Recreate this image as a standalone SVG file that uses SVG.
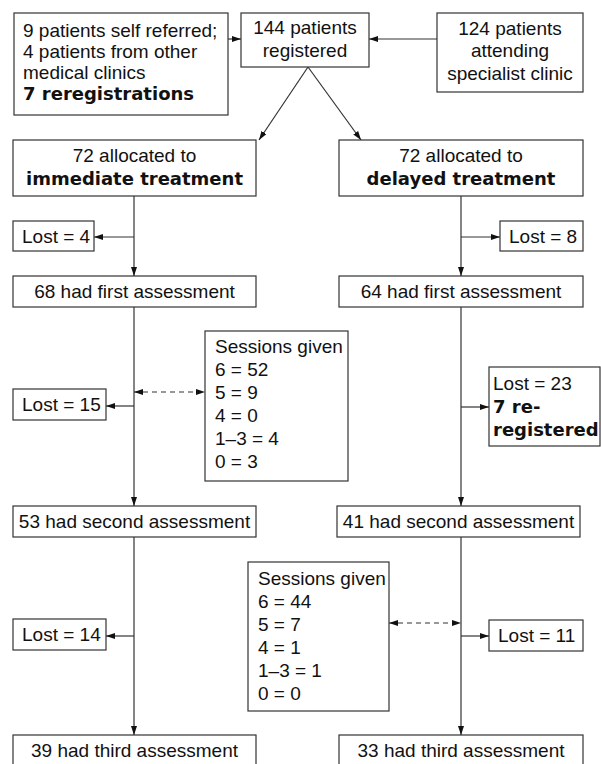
<svg xmlns="http://www.w3.org/2000/svg" width="601" height="764" viewBox="0 0 601 764">
<defs>
<marker id="ah" viewBox="0 0 9 6" refX="9" refY="3" markerWidth="9" markerHeight="6" orient="auto-start-reverse" markerUnits="userSpaceOnUse"><path d="M0,0 L9,3 L0,6 z" fill="#111"/></marker>
<style>
.box{fill:#fff;stroke:#333;stroke-width:1.2}
text{font-family:"Liberation Sans",Arial,sans-serif;font-size:19px;fill:#111}
.b{font-family:"DejaVu Sans","Liberation Sans",sans-serif;font-weight:bold;font-size:18px}
.c{text-anchor:middle}
.ln{stroke:#333;stroke-width:1.2;fill:none}
.arr{marker-end:url(#ah)}
.dash{stroke-dasharray:5,4;marker-start:url(#ah);marker-end:url(#ah)}
</style>
</defs>
<rect width="601" height="764" fill="#fff"/>
<g id="connectors">
<line class="ln arr" x1="228" y1="39" x2="241" y2="39"/>
<line class="ln arr" x1="437" y1="39" x2="369" y2="39"/>
<line class="ln arr" x1="308" y1="67" x2="259" y2="140"/>
<line class="ln arr" x1="308" y1="67" x2="361" y2="140"/>
<line class="ln arr" x1="134" y1="196" x2="134" y2="276"/>
<line class="ln arr" x1="134" y1="237" x2="94" y2="237"/>
<line class="ln arr" x1="461" y1="196" x2="461" y2="276"/>
<line class="ln arr" x1="461" y1="237" x2="500" y2="237"/>
<line class="ln arr" x1="134" y1="307" x2="134" y2="506"/>
<line class="ln arr" x1="134" y1="406" x2="106" y2="406"/>
<line class="ln dash" x1="134" y1="392" x2="205" y2="392"/>
<line class="ln arr" x1="461" y1="307" x2="461" y2="506"/>
<line class="ln arr" x1="461" y1="407" x2="489" y2="407"/>
<line class="ln arr" x1="134" y1="537" x2="134" y2="735"/>
<line class="ln arr" x1="134" y1="636" x2="106" y2="636"/>
<line class="ln arr" x1="461" y1="537" x2="461" y2="735"/>
<line class="ln arr" x1="461" y1="636" x2="489" y2="636"/>
<line class="ln dash" x1="389" y1="623" x2="461" y2="623"/>
</g>
<g id="referred">
<rect class="box" x="14" y="13" width="214" height="102"/>
<text x="23" y="37">9 patients self referred;</text>
<text x="23" y="58">4 patients from other</text>
<text x="23" y="79">medical clinics</text>
<text class="b" x="23" y="100">7 reregistrations</text>
</g>
<g id="registered">
<rect class="box" x="241" y="13" width="128" height="54"/>
<text class="c" x="305" y="34">144 patients</text>
<text class="c" x="305" y="57">registered</text>
</g>
<g id="specialist">
<rect class="box" x="437" y="13" width="146" height="79"/>
<text class="c" x="510" y="35">124 patients</text>
<text class="c" x="510" y="57">attending</text>
<text class="c" x="510" y="80">specialist clinic</text>
</g>
<g id="immediate">
<rect class="box" x="13" y="140" width="243" height="56"/>
<text class="c" x="134.5" y="162">72 allocated to</text>
<text class="c b" x="134.5" y="185">immediate treatment</text>
</g>
<g id="delayed">
<rect class="box" x="339" y="140" width="244" height="56"/>
<text class="c" x="461" y="162">72 allocated to</text>
<text class="c b" x="461" y="185">delayed treatment</text>
</g>
<g id="lost4">
<rect class="box" x="13" y="221" width="81" height="30"/>
<text x="22" y="243">Lost = 4</text>
</g>
<g id="lost8">
<rect class="box" x="500" y="221" width="83" height="30"/>
<text x="509" y="243">Lost = 8</text>
</g>
<g id="first-imm">
<rect class="box" x="13" y="276" width="243" height="31"/>
<text class="c" x="134.5" y="298">68 had first assessment</text>
</g>
<g id="first-del">
<rect class="box" x="339" y="276" width="244" height="31"/>
<text class="c" x="461" y="298">64 had first assessment</text>
</g>
<g id="lost15">
<rect class="box" x="13" y="389" width="93" height="31"/>
<text x="22" y="411">Lost = 15</text>
</g>
<g id="sessions1">
<rect class="box" x="205" y="331" width="143" height="150"/>
<text x="215" y="353">Sessions given</text>
<text x="215" y="376">6 = 52</text>
<text x="215" y="399">5 = 9</text>
<text x="215" y="422">4 = 0</text>
<text x="215" y="445">1–3 = 4</text>
<text x="215" y="468">0 = 3</text>
</g>
<g id="lost23">
<rect class="box" x="489" y="367" width="111" height="79"/>
<text x="493" y="390">Lost = 23</text>
<text class="b" x="493" y="413">7 re-</text>
<text class="b" x="493" y="436">registered</text>
</g>
<g id="second-imm">
<rect class="box" x="13" y="506" width="243" height="31"/>
<text class="c" x="134.5" y="528">53 had second assessment</text>
</g>
<g id="second-del">
<rect class="box" x="337" y="506" width="243" height="31"/>
<text class="c" x="458.5" y="528">41 had second assessment</text>
</g>
<g id="lost14">
<rect class="box" x="13" y="619" width="93" height="31"/>
<text x="22" y="641">Lost = 14</text>
</g>
<g id="sessions2">
<rect class="box" x="248" y="562" width="141" height="149"/>
<text x="258" y="585">Sessions given</text>
<text x="258" y="608">6 = 44</text>
<text x="258" y="631">5 = 7</text>
<text x="258" y="654">4 = 1</text>
<text x="258" y="677">1–3 = 1</text>
<text x="258" y="700">0 = 0</text>
</g>
<g id="lost11">
<rect class="box" x="489" y="620" width="94" height="31"/>
<text x="498" y="642">Lost = 11</text>
</g>
<g id="third-imm">
<rect class="box" x="13" y="735" width="243" height="40"/>
<text class="c" x="134.5" y="757">39 had third assessment</text>
</g>
<g id="third-del">
<rect class="box" x="339" y="735" width="244" height="40"/>
<text class="c" x="461" y="757">33 had third assessment</text>
</g>
</svg>
